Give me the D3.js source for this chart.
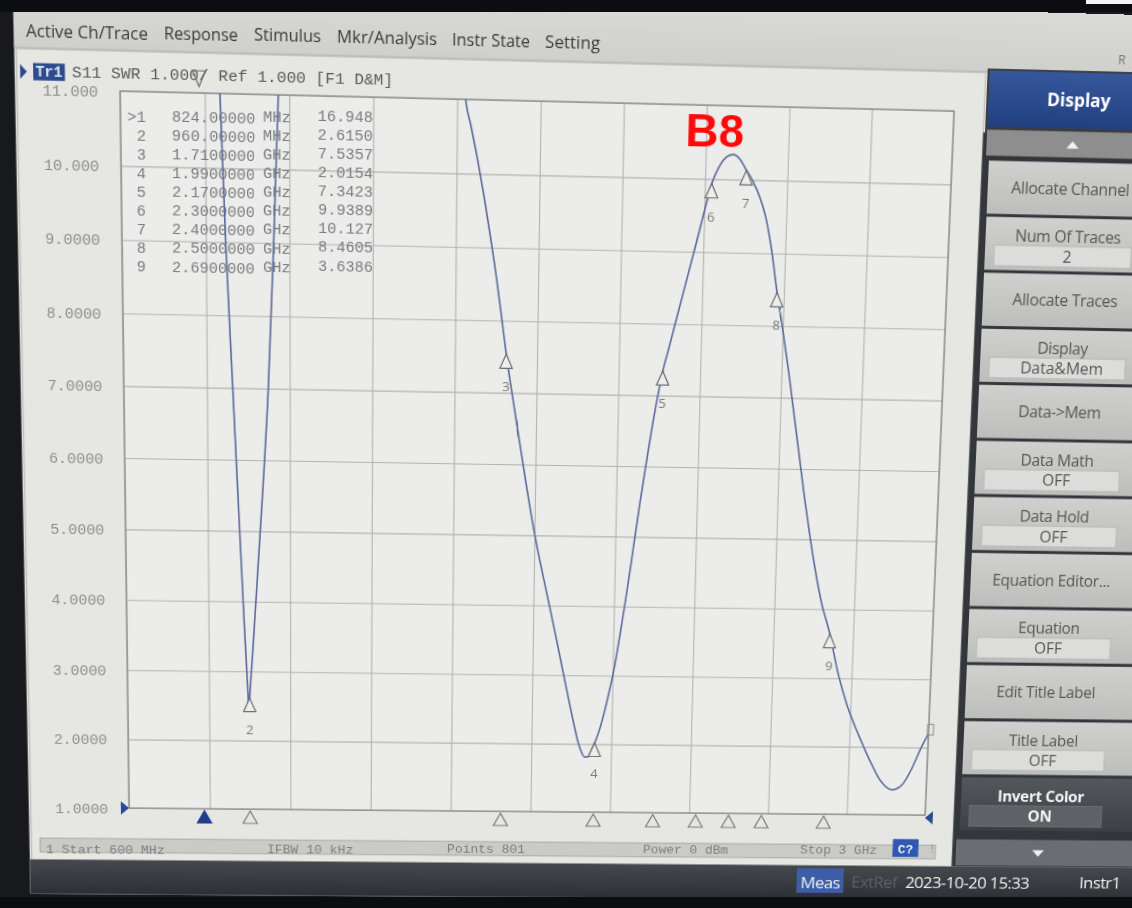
<!DOCTYPE html>
<html><head><meta charset="utf-8">
<script src="https://cdn.jsdelivr.net/npm/d3@7"></script>
<style>
html,body{margin:0;padding:0;background:#17191d;overflow:hidden;width:1132px;height:908px;}
body{position:relative;}
#warp{position:absolute;left:0;top:0;transform-origin:0 0;display:block;}
#bezel{position:absolute;left:0;top:0;display:block;}
</style></head><body>
<script>
// ---------------- DATA ----------------
const menuItems = ["Active Ch/Trace","Response","Stimulus","Mkr/Analysis","Instr State","Setting"];
const traceHeader = "S11 SWR 1.000/ Ref  1.000  [F1 D&M]";
const yTicks = [11,10,9,8,7,6,5,4,3,2,1];
const yTickLabels = ["11.000","10.000","9.0000","8.0000","7.0000","6.0000","5.0000","4.0000","3.0000","2.0000","1.0000"];
const xStartMHz = 600, xStopMHz = 3000, xDivMHz = 240;

const traceFreq = [600,650,700,750,800,824,850,870,883,897,915,933,945,952,956,958,960,970,985,1000,1018,1034,1049,1065,1100,1200,1300,1400,1480,1530,1560,1584,1600,1620,1640,1660,1680,1695,1710,1730,1750,1770,1790,1810,1830,1850,1870,1890,1910,1925,1940,1950,1960,1970,1980,1990,2000,2015,2030,2045,2060,2075,2090,2110,2130,2150,2170,2185,2200,2220,2240,2260,2280,2300,2320,2340,2360,2380,2400,2420,2440,2460,2480,2500,2520,2540,2560,2580,2600,2620,2640,2660,2690,2720,2750,2790,2830,2860,2895,2925,2955,2980,3000];
const traceSwr  = [42,35,28,23,18.8,16.948,14.3,12.5,11.0,9.0,7.0,5.0,3.7,3.0,2.6,2.45,2.615,3.3,4.4,5.5,7.0,8.9,11.0,13.5,18,25,27,24,18,14.5,12.4,11.0,10.65,10.2,9.7,9.15,8.55,8.05,7.5357,6.95,6.38,5.82,5.28,4.8,4.37,3.95,3.52,3.08,2.64,2.32,2.03,1.89,1.81,1.81,1.89,2.0154,2.15,2.42,2.75,3.12,3.6,4.12,4.68,5.45,6.15,6.8,7.3423,7.64,7.94,8.34,8.74,9.14,9.55,9.9389,10.17,10.3,10.34,10.28,10.127,9.98,9.78,9.5,9.05,8.4605,7.95,7.4,6.8,6.2,5.6,5.05,4.55,4.12,3.6386,3.05,2.6,2.15,1.75,1.5,1.37,1.44,1.7,2.0,2.2];

const markerIds = ["1","2","3","4","5","6","7","8","9"];
const markerFreqMHz = [824,960,1710,1990,2170,2300,2400,2500,2690];
const markerFreqText = ["824.00000","960.00000","1.7100000","1.9900000","2.1700000","2.3000000","2.4000000","2.5000000","2.6900000"];
const markerUnit = ["MHz","MHz","GHz","GHz","GHz","GHz","GHz","GHz","GHz"];
const markerValue = [16.948,2.6150,7.5357,2.0154,7.3423,9.9389,10.127,8.4605,3.6386];
const markerValueText = ["16.948","2.6150","7.5357","2.0154","7.3423","9.9389","10.127","8.4605","3.6386"];
const activeMarker = "1";

const statusItems = ["1 Start 600 MHz","IFBW 10 kHz","Points 801","Power 0 dBm","Stop 3 GHz"];
const calFlag = "C?";
const softkeyTitle = "Display";
const softkeyLabels = ["Allocate Channel","Num Of Traces","Allocate Traces","Display","Data->Mem","Data Math","Data Hold","Equation Editor...","Equation","Edit Title Label","Title Label","Invert Color"];
const softkeyValues = [null,"2",null,"Data&Mem",null,"OFF","OFF",null,"OFF",null,"OFF","ON"];
const bottomBar = ["Meas","ExtRef","2023-10-20 15:33","Instr1"];
const annotation = "B8";
const annotationFreqMHz = 2305;

// ---------------- LAYOUT ----------------
const W = 1132, H = 908, CW = 1320, CH = 1000;
const plot = {left:129, right:925, top:97, bottom:811};
const mono = "'Liberation Mono','DejaVu Sans Mono',monospace";
const sans = "'Open Sans','Noto Sans',sans-serif";

// camera perspective of the photographed screen (homography, plot corners -> photo corners)
const srcPts = [[plot.left,plot.top],[plot.right,plot.top],[plot.right,plot.bottom],[plot.left,plot.bottom]];
const dstPts = [[120,91],[954,111],[925,815],[129,808]];
function solveH(s,d){
  const A=[],b=[];
  for(let i=0;i<4;i++){const [x,y]=s[i],[u,v]=d[i];
    A.push([x,y,1,0,0,0,-u*x,-u*y]);b.push(u);
    A.push([0,0,0,x,y,1,-v*x,-v*y]);b.push(v);}
  const n=8;
  for(let c=0;c<n;c++){let p=c;for(let r=c+1;r<n;r++)if(Math.abs(A[r][c])>Math.abs(A[p][c]))p=r;
    [A[c],A[p]]=[A[p],A[c]];[b[c],b[p]]=[b[p],b[c]];
    for(let r=0;r<n;r++){if(r===c)continue;const f=A[r][c]/A[c][c];for(let k=c;k<n;k++)A[r][k]-=f*A[c][k];b[r]-=f*b[c];}}
  return b.map((v,i)=>v/A[i][i]);
}
const Hm = solveH(srcPts,dstPts), Hi = solveH(dstPts,srcPts);
const P = (x,y)=>{const w=Hi[6]*x+Hi[7]*y+1;return [(Hi[0]*x+Hi[1]*y+Hi[2])/w,(Hi[3]*x+Hi[4]*y+Hi[5])/w];};

const svg = d3.select("body").append("svg").attr("id","warp").attr("width",CW).attr("height",CH)
  .style("transform",`matrix3d(${Hm[0]},${Hm[3]},0,${Hm[6]},${Hm[1]},${Hm[4]},0,${Hm[7]},0,0,1,0,${Hm[2]},${Hm[5]},0,1)`);
const defs = svg.append("defs");
function vgrad(id,c1,c2){const g=defs.append("linearGradient").attr("id",id).attr("x1",0).attr("y1",0).attr("x2",0).attr("y2",1);
  g.append("stop").attr("offset","0%").attr("stop-color",c1);g.append("stop").attr("offset","100%").attr("stop-color",c2);}
vgrad("keyG","#d0d0ce","#bdbdbb");
vgrad("menuG","#dadad7","#cfcfcc");
vgrad("botG","#45484d","#2c2f34");
vgrad("darkKeyG","#54575c","#3c3f44");
vgrad("hdrG","#36579c","#22407f");
defs.append("clipPath").attr("id","plotClip").append("rect")
  .attr("x",plot.left).attr("y",plot.top).attr("width",plot.right-plot.left).attr("height",plot.bottom-plot.top);

const scr = svg.append("g");
const scrLeft = P(19,300)[0];
const menuBot = P(400,57)[1];
const winBot = P(500,863)[1];
const barBot = P(500,897)[1];
const winRight = P(976,300)[0];

// screen base, menu, window
scr.append("rect").attr("x",scrLeft).attr("y",0).attr("width",CW).attr("height",barBot).attr("fill","#e1e1de");
scr.append("rect").attr("x",scrLeft).attr("y",0).attr("width",CW).attr("height",menuBot).attr("fill","url(#menuG)");
scr.append("line").attr("x1",scrLeft).attr("x2",CW).attr("y1",menuBot).attr("y2",menuBot).attr("stroke","#aeaeab");
const menuStart=[26,164,254,337,452,545], menuEnd=[148,238,321,437,530,600], menuBase=[37,39,41,43,46,48];
menuItems.forEach((t,i)=>{
  const a=P(menuStart[i],menuBase[i]), b=P(menuEnd[i],menuBase[i]);
  scr.append("text").attr("x",a[0]).attr("y",a[1]).text(t).attr("textLength",b[0]-a[0]).attr("lengthAdjust","spacingAndGlyphs")
    .attr("font-family",sans).attr("font-size",16.5).attr("fill","#3a3a3a");
});
{const r=P(1118,64); scr.append("text").attr("x",r[0]).attr("y",r[1]).text("R").attr("font-family",sans).attr("font-size",12).attr("fill","#777");}

scr.append("rect").attr("x",scrLeft+2).attr("y",menuBot+1).attr("width",winRight-scrLeft-2).attr("height",winBot-menuBot-1)
  .attr("fill","#e6e6e3").attr("stroke","#b9b9b6");

// trace header
{
  const a=P(20,64), b=P(27,79);
  scr.append("path").attr("d",`M${a[0]},${a[1]} L${b[0]},${(a[1]+b[1])/2} L${a[0]},${b[1]} Z`).attr("fill","#2b4a93");
  const t0=P(33,63), t1=P(65,81);
  scr.append("rect").attr("x",t0[0]).attr("y",t0[1]).attr("width",t1[0]-t0[0]).attr("height",t1[1]-t0[1]).attr("fill","#2d4b8e");
  scr.append("text").attr("x",(t0[0]+t1[0])/2).attr("y",t1[1]-4).attr("text-anchor","middle").text("Tr1")
    .attr("font-family",mono).attr("font-size",14).attr("font-weight","bold").attr("fill","#dfe4ee");
  const h0=P(72,77), h1=P(393,77);
  scr.append("text").attr("x",h0[0]).attr("y",h0[1]).text(traceHeader).attr("textLength",h1[0]-h0[0]).attr("lengthAdjust","spacingAndGlyphs")
    .attr("font-family",mono).attr("font-size",14.5).attr("fill","#5a5a5e");
}

// scales
const x = d3.scaleLinear().domain([xStartMHz,xStopMHz]).range([plot.left,plot.right]);
const y = d3.scaleLinear().domain([1,11]).range([plot.bottom,plot.top]);

scr.append("rect").attr("x",plot.left).attr("y",plot.top).attr("width",plot.right-plot.left).attr("height",plot.bottom-plot.top).attr("fill","#ececea");

const xGrid = d3.range(xStartMHz, xStopMHz+1, xDivMHz);
const gx = scr.append("g").attr("transform",`translate(0,${plot.bottom})`)
  .call(d3.axisBottom(x).tickValues(xGrid).tickSize(-(plot.bottom-plot.top)).tickFormat(""));
gx.select(".domain").remove();
gx.selectAll("line").attr("stroke","#b3b3b1").attr("stroke-width",1.1);
const gy = scr.append("g").attr("transform",`translate(${plot.left},0)`)
  .call(d3.axisLeft(y).tickValues(yTicks).tickSize(-(plot.right-plot.left)).tickFormat(""));
gy.select(".domain").remove();
gy.selectAll("line").attr("stroke","#b3b3b1").attr("stroke-width",1.1);
const gyl = scr.append("g").attr("transform",`translate(${P(76,450)[0]},0)`)
  .call(d3.axisLeft(y).tickValues(yTicks).tickSize(0).tickPadding(0).tickFormat(d=>yTickLabels[yTicks.indexOf(d)]));
gyl.select(".domain").remove();
gyl.selectAll("text").attr("text-anchor","middle").attr("font-family",mono).attr("font-size",14.5).attr("fill","#8e8e8e").attr("dy","0.35em");

scr.append("rect").attr("x",plot.left).attr("y",plot.top).attr("width",plot.right-plot.left).attr("height",plot.bottom-plot.top)
  .attr("fill","none").attr("stroke","#8d8d8d").attr("stroke-width",1.3);

// marker table
const tbl = scr.append("g").attr("font-family",mono).attr("font-size",14.6).attr("fill","#7b7b80");
markerIds.forEach((id,i)=>{
  const py = 122 + i*18.7;
  const n=P(146,py), f=P(172,py), u=P(263,py), v=P(373,py);
  tbl.append("text").attr("x",n[0]).attr("y",n[1]).attr("text-anchor","end").text((id===activeMarker?">":"")+id);
  tbl.append("text").attr("x",f[0]).attr("y",f[1]).text(markerFreqText[i]);
  tbl.append("text").attr("x",u[0]).attr("y",u[1]).text(markerUnit[i]);
  tbl.append("text").attr("x",v[0]).attr("y",v[1]).attr("text-anchor","end").text(markerValueText[i]);
});

// trace
const line = d3.line().x((d,i)=>x(traceFreq[i])).y((d,i)=>y(traceSwr[i])).curve(d3.curveMonotoneX);
scr.append("g").attr("clip-path","url(#plotClip)").append("path")
  .attr("d", line(traceFreq)).attr("fill","none").attr("stroke","#5d6b9d").attr("stroke-width",1.6).attr("stroke-linejoin","round");

// markers
markerIds.forEach((id,i)=>{
  const v = markerValue[i], px = x(markerFreqMHz[i]);
  if (v <= 11) {
    const py = y(v);
    scr.append("path").attr("d",`M${px},${py} L${px-6},${py+14} L${px+6},${py+14} Z`)
      .attr("fill","#eeeeec").attr("stroke","#6f6f72").attr("stroke-width",1.2);
    scr.append("text").attr("x",px).attr("y",py+37).attr("text-anchor","middle").text(id)
      .attr("font-family",sans).attr("font-size",13).attr("fill","#7a7a7a");
  } else {
    scr.append("path").attr("d",`M${px-6},${plot.top-21} L${px+6},${plot.top-21} L${px},${plot.top-6} Z`)
      .attr("fill","none").attr("stroke","#6f6f72").attr("stroke-width",1.2);
  }
  const by = plot.bottom + 2;
  scr.append("path").attr("d",`M${px},${by} L${px-7},${by+13} L${px+7},${by+13} Z`)
    .attr("fill", id===activeMarker ? "#1f3d8f" : "none")
    .attr("stroke", id===activeMarker ? "#1f3d8f" : "#7a7a7a").attr("stroke-width",1.2);
});
scr.append("path").attr("d",`M${plot.left-8},${plot.bottom-7} L${plot.left},${plot.bottom} L${plot.left-8},${plot.bottom+7} Z`).attr("fill","#2b4a93");
scr.append("path").attr("d",`M${plot.right+8},${plot.bottom-4} L${plot.right},${plot.bottom+3} L${plot.right+8},${plot.bottom+10} Z`).attr("fill","#2b4a93");
scr.append("rect").attr("x",plot.right-1).attr("y",y(traceSwr[traceSwr.length-1])-10).attr("width",6).attr("height",11)
  .attr("fill","none").attr("stroke","#8a8a8a");

// annotation
scr.append("text").attr("x",x(annotationFreqMHz)).attr("y",P(712,147)[1]).attr("text-anchor","middle").text(annotation)
  .attr("font-family","'Liberation Sans',Arial,sans-serif").attr("font-weight","bold").attr("font-size",44).attr("fill","#ff0a0a");

// status bar
{
  const s0=P(40,838), s1=P(935,859);
  scr.append("rect").attr("x",s0[0]).attr("y",s0[1]).attr("width",s1[0]-s0[0]).attr("height",s1[1]-s0[1]).attr("fill","#cacac7").attr("stroke","#a8a8a5");
  const statusX=[46,267,447,643,800];
  statusItems.forEach((t,i)=>{const p=P(statusX[i],853);
    scr.append("text").attr("x",p[0]).attr("y",p[1]).text(t).attr("font-family",mono).attr("font-size",13).attr("fill","#7f7f7f");});
  const c0=P(893,839), c1=P(918,857);
  scr.append("rect").attr("x",c0[0]).attr("y",c0[1]).attr("width",c1[0]-c0[0]).attr("height",c1[1]-c0[1]).attr("fill","#2f58b0");
  scr.append("text").attr("x",(c0[0]+c1[0])/2).attr("y",c1[1]-4).attr("text-anchor","middle").text(calFlag).attr("font-family",mono).attr("font-size",13).attr("font-weight","bold").attr("fill","#e8eef8");
  const e=P(928,853);
  scr.append("text").attr("x",e[0]).attr("y",e[1]).text("!").attr("font-family",mono).attr("font-size",13).attr("fill","#9a9a9a");
}

// softkey panel
{
  const kx = 958, cx = 1042, kw = 300;
  const hdrT=P(1050,72)[1], hdrB=P(1050,128)[1], upB=P(1050,157)[1];
  scr.append("rect").attr("x",winRight).attr("y",hdrT+60).attr("width",CW).attr("height",winBot-hdrT-60).attr("fill","#33363b");
  scr.append("rect").attr("x",kx-2).attr("y",hdrT-2).attr("width",CW).attr("height",64).attr("fill","#3a3d42");
  scr.append("rect").attr("x",kx).attr("y",hdrT).attr("width",kw).attr("height",hdrB-hdrT).attr("fill","url(#hdrG)");
  scr.append("text").attr("x",cx+4).attr("y",(hdrT+hdrB)/2+6).attr("text-anchor","middle").text(softkeyTitle)
    .attr("font-family",sans).attr("font-size",17).attr("font-weight","bold").attr("fill","#ffffff");
  scr.append("rect").attr("x",kx).attr("y",hdrB+3).attr("width",kw).attr("height",upB-hdrB-3).attr("fill","#8e8e8e");
  const um=(hdrB+3+upB)/2;
  scr.append("path").attr("d",`M${cx-6},${um+4} L${cx},${um-3} L${cx+6},${um+4} Z`).attr("fill","#f2f2f2");
  softkeyLabels.forEach((lab,i)=>{
    const t = P(1050,162+56*i)[1], b = P(1050,162+56*i+53)[1], h=b-t;
    const dark = i===softkeyLabels.length-1;
    scr.append("rect").attr("x",kx+3).attr("y",t).attr("width",kw).attr("height",h).attr("fill",dark?"url(#darkKeyG)":"url(#keyG)");
    const val = softkeyValues[i], tc = dark?"#f4f4f4":"#565656", fw = dark?"bold":"normal";
    if (val===null){
      scr.append("text").attr("x",cx).attr("y",t+h/2+5.5).attr("text-anchor","middle").text(lab)
        .attr("font-family",sans).attr("font-size",15.5).attr("fill",tc).attr("font-weight",fw).attr("letter-spacing","-0.3");
    } else {
      scr.append("text").attr("x",cx).attr("y",t+h*0.36+5).attr("text-anchor","middle").text(lab)
        .attr("font-family",sans).attr("font-size",15.5).attr("fill",tc).attr("font-weight",fw).attr("letter-spacing","-0.3");
      scr.append("rect").attr("x",kx+12).attr("y",t+h*0.53).attr("width",135).attr("height",h*0.39)
        .attr("fill",dark?"#5e6166":"#dcdcda").attr("stroke",dark?"#6c6f74":"#b7b7b5");
      scr.append("text").attr("x",cx).attr("y",t+h*0.74+5).attr("text-anchor","middle").text(val)
        .attr("font-family",sans).attr("font-size",15.5).attr("fill",tc).attr("font-weight",fw);
    }
  });
  const dT=P(1050,840)[1], dB=P(1050,866)[1];
  scr.append("rect").attr("x",kx).attr("y",dT).attr("width",kw).attr("height",dB-dT).attr("fill","#6a6d72");
  const dm=(dT+dB)/2;
  scr.append("path").attr("d",`M${cx-6},${dm-3} L${cx+6},${dm-3} L${cx},${dm+4} Z`).attr("fill","#eeeeee");
}

// bottom dark bar
{
  scr.append("rect").attr("x",scrLeft).attr("y",winBot).attr("width",CW).attr("height",barBot-winBot).attr("fill","url(#botG)");
  const m0=P(797,868), m1=P(843,893);
  scr.append("rect").attr("x",m0[0]).attr("y",m0[1]).attr("width",m1[0]-m0[0]).attr("height",m1[1]-m0[1]).attr("fill","#3b5ea6");
  const bx=[[820,"middle","#f0f0f0"],[851,"start","#5d6167"],[905,"start","#f2f2f2"],[1079,"start","#f2f2f2"]];
  bottomBar.forEach((t,i)=>{const p=P(bx[i][0],888);
    scr.append("text").attr("x",p[0]).attr("y",p[1]).attr("text-anchor",bx[i][1]).text(t)
      .attr("font-family",sans).attr("font-size",17).attr("fill",bx[i][2]).attr("letter-spacing","-0.6");});
}

// bezel overlay (not warped)
const bez = d3.select("body").append("svg").attr("id","bezel").attr("width",W).attr("height",H);
bez.append("rect").attr("x",0).attr("y",0).attr("width",W).attr("height",12).attr("fill","#0c0d10");
bez.append("rect").attr("x",1086).attr("y",0).attr("width",46).attr("height",4).attr("fill","#f4f4f4");
bez.append("rect").attr("x",0).attr("y",897).attr("width",W).attr("height",11).attr("fill","#0c0d10");
</script>
</body></html>
